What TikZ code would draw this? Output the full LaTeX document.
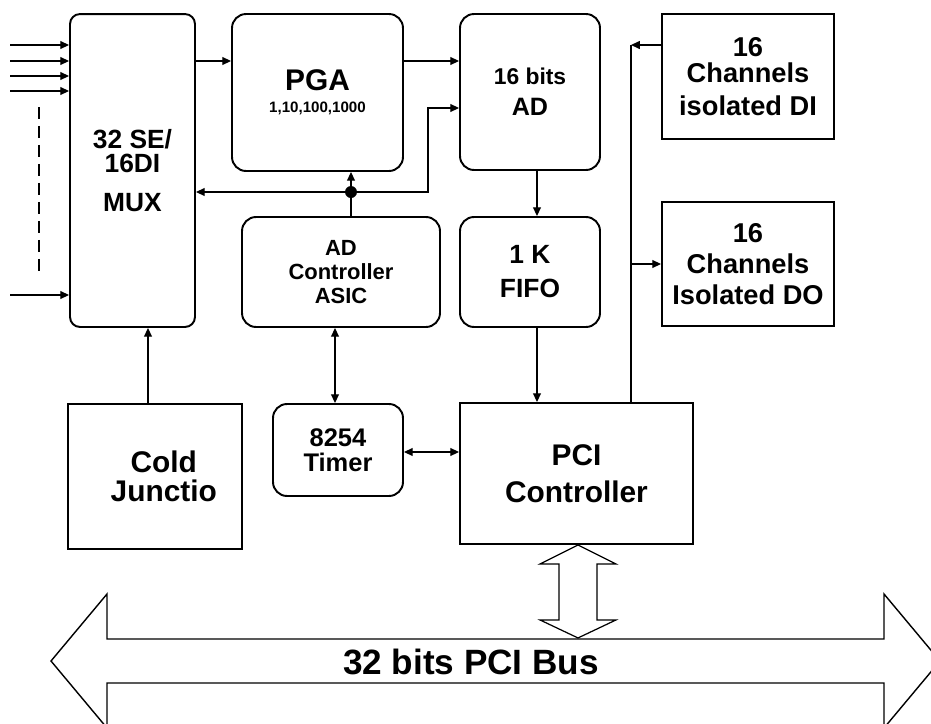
\documentclass[tikz,border=0pt]{standalone}
\usepackage{fontspec}
\setmainfont{Liberation Sans}
\usetikzlibrary{arrows.meta}

\begin{document}
\begin{tikzpicture}[x=0.02cm, y=-0.02cm,
  blk/.style={draw, rounded corners=0.28cm, line width=1.1pt, align=center, inner sep=0pt},
  sqb/.style={draw, line width=1.1pt, align=center, inner sep=0pt},
  arr/.style={-{Triangle[length=5pt,width=4.5pt]}, line width=0.7pt},
  darr/.style={{Triangle[length=5pt,width=4.5pt]}-{Triangle[length=5pt,width=4.5pt]}, line width=0.7pt},
]
  \useasboundingbox (0,0) rectangle (931,724);

  % Blocks
  \node[blk, rounded corners=0.2cm, minimum width=2.5cm, minimum height=6.26cm,
        font=\bfseries\fontsize{15}{13.6}\selectfont] (mux) at (132.5,170.5) {32 SE/\\16DI\\[9pt]MUX};
  \node[blk, minimum width=3.42cm, minimum height=3.14cm,
        font=\bfseries\fontsize{17}{17}\selectfont] (pga) at (317.5,92.5)
        {PGA\\[-4.5pt]{\fontsize{8.6}{10}\selectfont 1,10,100,1000}};
  \node[blk, minimum width=2.8cm, minimum height=3.12cm,
        font=\bfseries\fontsize{14.3}{17.6}\selectfont] (ad) at (530,92) {{\fontsize{13}{13}\selectfont 16 bits}\\AD};
  \node[blk, minimum width=3.96cm, minimum height=2.2cm,
        font=\bfseries\fontsize{12.5}{13.6}\selectfont] (adc) at (341,272) {AD\\Controller\\ASIC};
  \node[blk, minimum width=2.8cm, minimum height=2.2cm,
        font=\bfseries\fontsize{15}{19.3}\selectfont] (fifo) at (530,272) {1 K\\FIFO};
  \node[blk, minimum width=2.6cm, minimum height=1.84cm,
        font=\bfseries\fontsize{14.5}{14.2}\selectfont] (timer) at (338,450) {8254\\Timer};
  \node[sqb, minimum width=3.48cm, minimum height=2.9cm,
        font=\bfseries\fontsize{17}{16.4}\selectfont] (cold) at (155,476.5) {\hspace*{10pt}Cold\\\hspace*{10pt}Junctio};
  \node[sqb, minimum width=4.66cm, minimum height=2.82cm,
        font=\bfseries\fontsize{17}{21}\selectfont] (pci) at (576.5,473.5) {PCI\\Controller};
  \node[sqb, minimum width=3.44cm, minimum height=2.5cm,
        font=\bfseries\fontsize{15.5}{14.7}\selectfont] (di) at (748,76.5) {16\\Channels\\[4pt]isolated DI};
  \node[sqb, minimum width=3.44cm, minimum height=2.48cm,
        font=\bfseries\fontsize{15.5}{17.5}\selectfont] (do) at (748,264) {16\\Channels\\Isolated DO};

  % Analog inputs
  \foreach \yy [count=\i] in {45,61,76,91,295} {
    \coordinate (in\i) at (10,\yy);
    \draw[arr] (in\i) -- (in\i -| mux.west);
  }
  \coordinate (dtop) at (39,107);
  \coordinate (dbot) at (39,275);
  \draw[line width=1.5pt, dash pattern=on 6.8pt off 4pt] (dtop) -- (dbot);

  % Signal path
  \coordinate (r1) at (0,61);
  \draw[arr] (mux.east |- r1) -- (pga.west |- r1);
  \draw[arr] (pga.east |- r1) -- (ad.west |- r1);
  \coordinate (c2) at (537,0);
  \draw[arr] (ad.south -| c2) -- (fifo.north -| c2);
  \draw[arr] (fifo.south -| c2) -- (pci.north -| c2);
  \coordinate (c3) at (148,0);
  \draw[arr] (cold.north -| c3) -- (mux.south -| c3);

  % AD controller lines
  \coordinate (jn) at (351,192);
  \coordinate (r2) at (428,108);
  \draw[line width=0.7pt] (adc.north -| jn) -- (jn);
  \draw[arr] (jn) -- (jn |- pga.south);
  \draw[arr] (jn) -- (jn -| mux.east);
  \draw[arr] (jn) -- (jn -| r2) -- (r2) -- (r2 -| ad.west);
  \fill (jn) circle (0.12cm);
  \coordinate (c1) at (335,0);
  \draw[darr] (adc.south -| c1) -- (timer.north -| c1);
  \coordinate (r3) at (0,452);
  \draw[darr] (timer.east |- r3) -- (pci.west |- r3);

  % Local bus to DI/DO
  \coordinate (c4) at (631,0);
  \coordinate (r0) at (0,45);
  \draw[line width=0.7pt] (pci.north -| c4) -- (c4 |- r0);
  \draw[arr] (di.west |- r0) -- (c4 |- r0);
  \draw[arr] (c4 |- do.west) -- (do.west);

  % PCI bus
  \draw[line width=0.8pt] (51,661) -- (107,594) -- (107,639) -- (884,639) -- (884,594) -- (940,661)
    -- (884,728) -- (884,683) -- (107,683) -- (107,728) -- cycle;
  \draw[line width=0.7pt, fill=white] (pci.south) ++(1.5,0) -- ++(38,19) -- ++(-19,0) -- ++(0,56) -- ++(19,0)
    -- ++(-38,18) -- ++(-38,-18) -- ++(19,0) -- ++(0,-56) -- ++(-19,0) -- cycle;
  \node[font=\bfseries\fontsize{20}{20}\selectfont] (bus) at (471,662) {32 bits PCI Bus};
\end{tikzpicture}
\end{document}
